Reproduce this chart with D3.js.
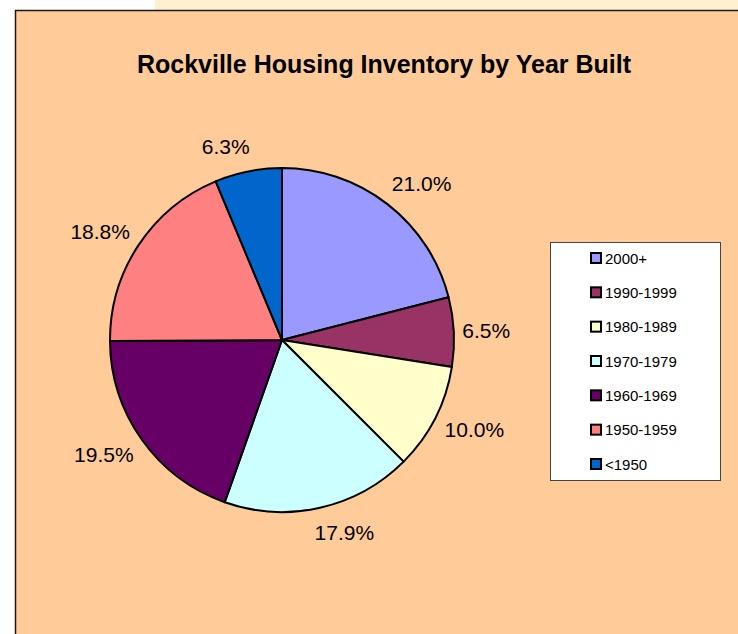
<!DOCTYPE html>
<html>
<head>
<meta charset="utf-8">
<script src="https://cdn.jsdelivr.net/npm/d3@7"></script>
<style>
  html, body { margin: 0; padding: 0; background: #fff; }
  svg { display: block; font-family: "Liberation Sans", Arial, Helvetica, sans-serif; }
</style>
</head>
<body>
<svg id="chart" width="738" height="634"></svg>
<script>
// Housing units by year built, percent of inventory
const categories = ["2000+", "1990-1999", "1980-1989", "1970-1979", "1960-1969", "1950-1959", "<1950"];
const shares = [21.0, 6.5, 10.0, 17.9, 19.5, 18.8, 6.3];
const colors = ["#9999FF", "#993366", "#FFFFCC", "#CCFFFF", "#660066", "#FF8080", "#0066CC"];
const title = "Rockville Housing Inventory by Year Built";

const svg = d3.select("#chart");
const W = 738, H = 634;

// page background and sheet strip above the chart
svg.append("rect").attr("width", W).attr("height", H).attr("fill", "#ffffff");
svg.append("rect").attr("x", 155).attr("y", 0).attr("width", W - 155).attr("height", 10).attr("fill", "#FFF0D2");

// chart area
svg.append("rect")
  .attr("x", 15.5).attr("y", 10.5)
  .attr("width", W + 20).attr("height", H + 20)
  .attr("fill", "#FFCC99")
  .attr("stroke", "#1a1a1a").attr("stroke-width", 1.5);

svg.append("text")
  .attr("x", 384).attr("y", 73)
  .attr("text-anchor", "middle")
  .attr("font-size", 25).attr("font-weight", "bold")
  .attr("fill", "#000")
  .text(title);

// pie
const cx = 282, cy = 340, R = 172;
const pie = d3.pie().sort(null).value(d => d.v);
const arcs = pie(shares.map((v, i) => ({ v, name: categories[i], color: colors[i] })));
const arc = d3.arc().innerRadius(0).outerRadius(R);

const g = svg.append("g").attr("transform", `translate(${cx},${cy})`);
g.selectAll("path.slice")
  .data(arcs)
  .join("path")
  .attr("class", "slice")
  .attr("d", arc)
  .attr("fill", d => d.data.color)
  .attr("stroke", "#000")
  .attr("stroke-width", 2)
  .attr("stroke-linejoin", "round");

// outside percentage labels
const fmt = d => d3.format(".1f")(d) + "%";
const labels = g.selectAll("text.lbl")
  .data(arcs)
  .join("text")
  .attr("class", "lbl")
  .attr("font-size", 21)
  .attr("fill", "#000")
  .attr("text-anchor", "middle")
  .text(d => fmt(d.data.v));

labels.each(function (d) {
  const a = (d.startAngle + d.endAngle) / 2;
  const s = Math.sin(a), c = Math.cos(a);
  const w = this.getComputedTextLength();
  const h = 15;
  const gapX = 8 + 10 * Math.abs(c);
  const x = R * s + s * w / 2 + Math.sign(s) * gapX;
  const y = -R * c - c * (h / 2 + 18);
  d3.select(this).attr("x", x).attr("y", y + h / 2);
});

// legend
const lg = svg.append("g");
lg.append("rect")
  .attr("x", 550.5).attr("y", 242.5)
  .attr("width", 170).attr("height", 238)
  .attr("fill", "#fff")
  .attr("stroke", "#444").attr("stroke-width", 1);

const ly = d3.scalePoint().domain(categories).range([258, 464]);
const items = lg.selectAll("g.item")
  .data(categories.map((c, i) => ({ c, color: colors[i] })))
  .join("g")
  .attr("class", "item")
  .attr("transform", d => `translate(0,${ly(d.c)})`);

items.append("rect")
  .attr("x", 591).attr("y", -5)
  .attr("width", 10).attr("height", 10)
  .attr("fill", d => d.color)
  .attr("stroke", "#000").attr("stroke-width", 2);

items.append("text")
  .attr("x", 605).attr("y", 5.5)
  .attr("font-size", 15)
  .attr("fill", "#000")
  .text(d => d.c);
</script>
</body>
</html>
